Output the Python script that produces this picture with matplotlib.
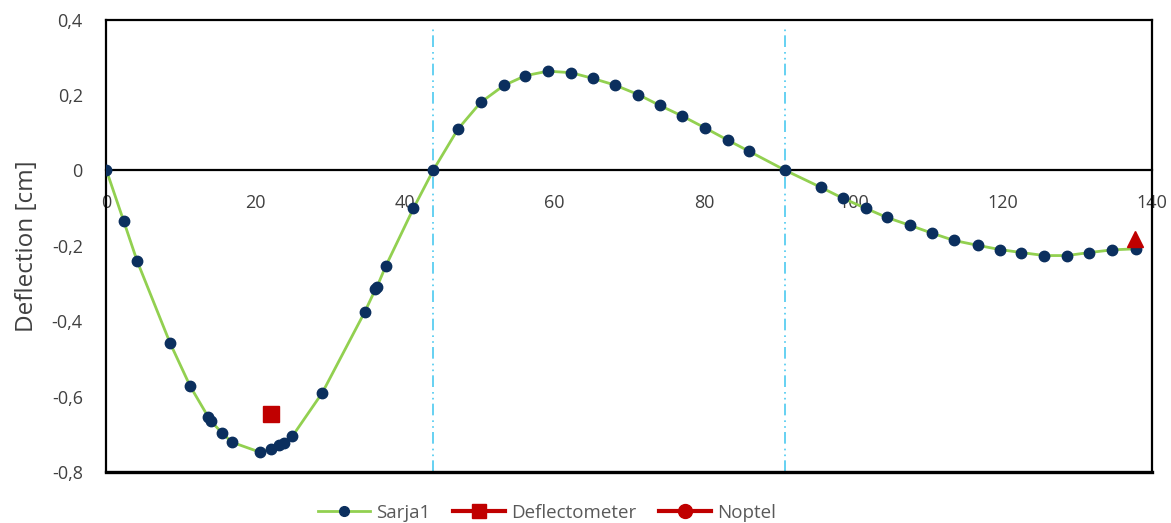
import matplotlib
matplotlib.use("Agg")
import matplotlib.pyplot as plt
from matplotlib.lines import Line2D
from matplotlib.ticker import FuncFormatter

plt.rcParams['font.family'] = ['Open Sans', 'DejaVu Sans']

# Measured deflection along the beam (position, deflection in cm)
sarja_x = [0, 2.3, 4.1, 8.5, 11.2, 13.6, 14.0, 15.5, 16.8, 20.5, 22.0, 23.05, 23.8,
           24.9, 28.9, 34.6, 36.0, 36.2, 37.4, 41.1, 43.75, 47.05, 50.1, 53.2, 56.1,
           59.1, 62.2, 65.1, 68.1, 71.2, 74.1, 77.1, 80.2, 83.2, 86.1, 90.9, 95.65,
           98.6, 101.7, 104.5, 107.6, 110.6, 113.5, 116.7, 119.6, 122.5, 125.6,
           128.6, 131.6, 134.6, 137.9]
sarja_y = [0, -0.134, -0.240, -0.457, -0.572, -0.653, -0.665, -0.697, -0.721, -0.747,
           -0.740, -0.729, -0.722, -0.705, -0.590, -0.375, -0.316, -0.310, -0.254,
           -0.101, 0, 0.109, 0.180, 0.225, 0.251, 0.263, 0.259, 0.244, 0.226, 0.201,
           0.172, 0.144, 0.112, 0.080, 0.050, 0, -0.045, -0.074, -0.101, -0.125,
           -0.146, -0.167, -0.186, -0.199, -0.210, -0.218, -0.226, -0.226, -0.218,
           -0.211, -0.208]

deflectometer_x = [22.0]
deflectometer_y = [-0.647]

noptel_x = [137.7]
noptel_y = [-0.183]

# Support positions (zero crossings)
support_x = [43.7, 90.9]

x_ticks = [0, 20, 40, 60, 80, 100, 120, 140]
y_ticks = [-0.8, -0.6, -0.4, -0.2, 0, 0.2, 0.4]

green = '#92D050'
navy = '#0B2F5E'
red = '#C00000'
cyan = '#4CC9F0'
text_col = '#404040'

fig = plt.figure(figsize=(11.71, 5.23), dpi=100)
ax = fig.add_axes([0.0909, 0.0975, 0.8929, 0.8652])

ax.vlines(support_x, -0.8, 0.375, colors=cyan, linewidth=1.2, zorder=1,
          linestyles=[(0, (7, 2.5, 1, 2.5, 1, 3))])

ax.plot(sarja_x, sarja_y, color=green, linewidth=2.0, marker='o', markersize=7.5,
        markerfacecolor=navy, markeredgecolor=navy, zorder=3)
ax.plot(deflectometer_x, deflectometer_y, linestyle='none', marker='s', markersize=11,
        color=red, zorder=4)
ax.plot(noptel_x, noptel_y, linestyle='none', marker='^', markersize=11,
        color=red, zorder=4)

ax.set_xlim(0, 140)
ax.set_ylim(-0.8, 0.4)
ax.set_xticks(x_ticks)
ax.set_yticks(y_ticks)

fmt = FuncFormatter(lambda v, p: ('%g' % round(v, 2)).replace('.', ','))
ax.xaxis.set_major_formatter(fmt)
ax.yaxis.set_major_formatter(fmt)

for s in ax.spines.values():
    s.set_color('black')
    s.set_linewidth(1.6)
ax.spines['bottom'].set_position(('data', 0))
ax.axhline(-0.8, color='black', linewidth=2.4, clip_on=False, zorder=5)

ax.tick_params(axis='both', length=0, labelsize=13, labelcolor=text_col)
ax.tick_params(axis='x', pad=17)
ax.tick_params(axis='y', pad=17)

ax.set_ylabel('Deflection [cm]', fontsize=17.5, color=text_col, labelpad=9)

handles = [
    Line2D([], [], color=green, linewidth=2, marker='o', markersize=7,
           markerfacecolor=navy, markeredgecolor=navy),
    Line2D([], [], color=red, linewidth=3, marker='s', markersize=10),
    Line2D([], [], color=red, linewidth=3, marker='o', markersize=10),
]
fig.legend(handles, ['Sarja1', 'Deflectometer', 'Noptel'], loc='lower center',
           bbox_to_anchor=(0.467, -0.03), ncol=3, frameon=False, fontsize=13.5,
           labelcolor='#595959', handlelength=2.8, columnspacing=1.2, handletextpad=0.3)

fig.savefig('out.png', dpi=100)
